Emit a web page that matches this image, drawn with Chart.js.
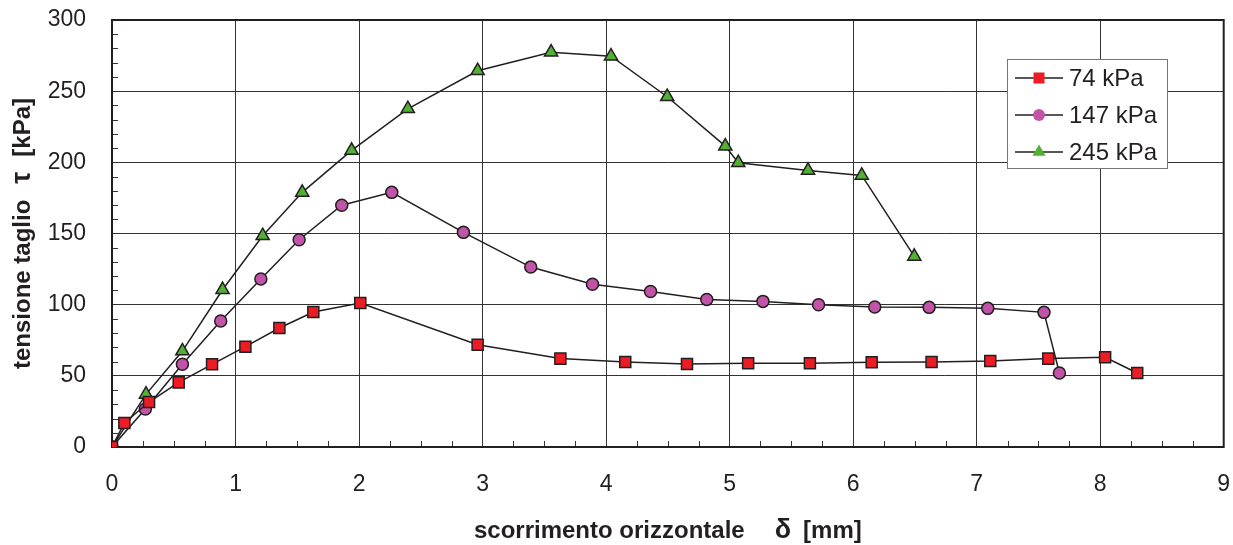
<!DOCTYPE html>
<html>
<head>
<meta charset="utf-8">
<script src="https://cdn.jsdelivr.net/npm/chart.js@4/dist/chart.umd.min.js"></script>
<style>
  html, body { margin: 0; padding: 0; background: #fff; }
  #wrap { width: 1233px; height: 545px; }
</style>
</head>
<body>
<div id="wrap"><canvas id="taglioChart" width="1233" height="545"></canvas></div>
<script>
// dati: scorrimento [mm] / tensione [kPa]
const x74 = [0, 0.10, 0.30, 0.54, 0.81, 1.08, 1.355, 1.63, 2.01, 2.96, 3.63, 4.155, 4.655, 5.15, 5.65, 6.15, 6.635, 7.11, 7.58, 8.04, 8.30];
const y74 = [0, 16.9, 31.6, 45.4, 58.1, 70.5, 83.6, 94.8, 101.1, 71.9, 62.1, 59.7, 58.3, 58.8, 58.8, 59.5, 59.7, 60.4, 62.1, 63.0, 52.0];

const x147 = [0, 0.27, 0.57, 0.88, 1.205, 1.515, 1.86, 2.265, 2.845, 3.39, 3.89, 4.36, 4.815, 5.27, 5.72, 6.175, 6.615, 7.09, 7.545, 7.67];
const y147 = [0, 26.7, 58.1, 88.5, 118.0, 145.6, 169.9, 178.9, 150.8, 126.4, 114.3, 109.3, 103.7, 102.3, 100.0, 98.3, 98.1, 97.4, 94.6, 52.0];

const x245 = [0, 0.275, 0.57, 0.895, 1.22, 1.54, 1.94, 2.395, 2.96, 3.555, 4.04, 4.495, 4.965, 5.07, 5.635, 6.07, 6.495];
const y245 = [0, 37.0, 67.4, 110.5, 148.4, 178.9, 208.4, 237.6, 264.3, 277.4, 274.6, 246.1, 211.4, 199.7, 194.3, 190.8, 133.9];

const seriesLabels = ['74 kPa', '147 kPa', '245 kPa'];
const xTicks = { min: 0, max: 9, step: 1 };
const yTicks = { min: 0, max: 300, step: 50 };

const ink = '#231f20';
const FONT = "'Liberation Sans', Arial, Helvetica, sans-serif";

function punti(xs, ys) {
    return xs.map((x, i) => ({ x: x, y: ys[i] }));
}

// tacche secondarie + cornice dell'area del grafico
const tacche = {
    id: 'tacche',
    beforeDatasetsDraw(chart) {
        const { ctx, chartArea: a, scales: { x, y } } = chart;
        ctx.save();
        ctx.strokeStyle = '#333';
        ctx.lineWidth = 1;
        ctx.beginPath();
        for (let v = 10; v < 300; v += 10) {
            if (v % 50 === 0) continue;
            const py = Math.round(y.getPixelForValue(v)) + 0.5;
            ctx.moveTo(a.left, py);
            ctx.lineTo(a.left + 6, py);
        }
        for (let v = 0.25; v < 9; v += 0.25) {
            if (Math.abs(v - Math.round(v)) < 1e-6) continue;
            const px = Math.round(x.getPixelForValue(v)) + 0.5;
            ctx.moveTo(px, a.bottom);
            ctx.lineTo(px, a.bottom - 6);
        }
        ctx.stroke();
        ctx.lineWidth = 2;
        ctx.strokeStyle = ink;
        ctx.strokeRect(a.left, a.top, a.right - a.left, a.bottom - a.top);
        ctx.restore();
    }
};

// titoli degli assi con il simbolo greco piu' grande
function misuraRuns(ctx, runs) {
    let w = 0;
    runs.forEach(r => { ctx.font = r.font; r.w = ctx.measureText(r.t).width; w += r.w + (r.gap || 0); });
    return w;
}

const legendaETitoli = {
    id: 'legendaETitoli',
    afterDraw(chart) {
        const { ctx, chartArea: a } = chart;
        ctx.save();
        ctx.fillStyle = ink;
        ctx.textBaseline = 'alphabetic';
        ctx.textAlign = 'left';

        // titolo asse x
        const runsX = [
            { t: 'scorrimento orizzontale', font: 'bold 24px ' + FONT },
            { t: 'δ', font: 'bold 27px ' + FONT, gap: 30 },
            { t: '[mm]', font: 'bold 24px ' + FONT, gap: 12 }
        ];
        let tot = misuraRuns(ctx, runsX);
        let cx = (a.left + a.right) / 2 - tot / 2;
        runsX.forEach(r => {
            cx += r.gap || 0;
            ctx.font = r.font;
            ctx.fillText(r.t, cx, 538);
            cx += r.w;
        });

        // titolo asse y
        const runsY = [
            { t: 'tensione taglio', font: 'bold 24px ' + FONT },
            { t: 'τ', font: 'bold 27px ' + FONT, gap: 16 },
            { t: '[kPa]', font: 'bold 24px ' + FONT, gap: 15 }
        ];
        tot = misuraRuns(ctx, runsY);
        ctx.translate(30, (a.top + a.bottom) / 2);
        ctx.rotate(-Math.PI / 2);
        let cy = -tot / 2;
        runsY.forEach(r => {
            cy += r.gap || 0;
            ctx.font = r.font;
            ctx.fillText(r.t, cy, 0);
            cy += r.w;
        });
        ctx.restore();

        // legenda dentro l'area del grafico
        ctx.save();
        const box = { x: 1007.5, y: 59.5, w: 160, h: 109 };
        ctx.fillStyle = '#fff';
        ctx.fillRect(box.x, box.y, box.w, box.h);
        ctx.strokeStyle = '#777';
        ctx.lineWidth = 1;
        ctx.strokeRect(box.x, box.y, box.w, box.h);
        const righe = [78, 115, 152];
        chart.data.datasets.forEach((ds, i) => {
            const ry = righe[i];
            ctx.strokeStyle = ink;
            ctx.lineWidth = 1.5;
            ctx.beginPath();
            ctx.moveTo(1015, ry);
            ctx.lineTo(1063, ry);
            ctx.stroke();
            ctx.fillStyle = ds.pointBackgroundColor;
            ctx.strokeStyle = ds.pointBorderColor;
            ctx.lineWidth = ds.pointBorderWidth;
            Chart.helpers.drawPoint(ctx, { pointStyle: ds.pointStyle, radius: ds.pointRadius, rotation: 0 }, 1039, ry);
            ctx.fillStyle = ink;
            ctx.font = '24px ' + FONT;
            ctx.textBaseline = 'middle';
            ctx.fillText(ds.label, 1069, ry + 1);
        });
        ctx.restore();
    }
};

Chart.defaults.font.family = FONT;
Chart.defaults.color = ink;

const ctxTaglio = document.getElementById('taglioChart').getContext('2d');
const taglioChart = new Chart(ctxTaglio, {
    type: 'line',
    data: {
        datasets: [
            {
                label: seriesLabels[0],
                data: punti(x74, y74),
                borderColor: ink,
                borderWidth: 1.5,
                pointStyle: 'rect',
                pointRadius: 7.8,
                pointBackgroundColor: '#ed1c24',
                pointBorderColor: ink,
                pointBorderWidth: 1.5
            },
            {
                label: seriesLabels[1],
                data: punti(x147, y147),
                borderColor: ink,
                borderWidth: 1.5,
                pointStyle: 'circle',
                pointRadius: 6,
                pointBackgroundColor: '#c153a8',
                pointBorderColor: ink,
                pointBorderWidth: 1.5
            },
            {
                label: seriesLabels[2],
                data: punti(x245, y245),
                borderColor: ink,
                borderWidth: 1.5,
                pointStyle: 'triangle',
                pointRadius: 7.6,
                pointBackgroundColor: '#52b135',
                pointBorderColor: ink,
                pointBorderWidth: 1.5
            }
        ]
    },
    options: {
        responsive: false,
        animation: false,
        devicePixelRatio: 1,
        layout: { padding: { top: 20, right: 9, left: 0, bottom: 0 } },
        plugins: {
            legend: { display: false },
            tooltip: { enabled: false }
        },
        scales: {
            x: {
                type: 'linear',
                min: xTicks.min,
                max: xTicks.max,
                ticks: { stepSize: xTicks.step, padding: 24, font: { size: 23 }, color: ink, maxRotation: 0 },
                grid: { color: '#333', lineWidth: 1, drawTicks: false },
                border: { display: false },
                afterFit(s) { s.height = 98; s.paddingLeft = 0; s.paddingRight = 0; }
            },
            y: {
                min: yTicks.min,
                max: yTicks.max,
                ticks: { stepSize: yTicks.step, padding: 26, font: { size: 23 }, color: ink },
                grid: { color: '#333', lineWidth: 1, drawTicks: false },
                border: { display: false },
                afterFit(s) { s.width = 112; s.paddingTop = 0; s.paddingBottom = 0; }
            }
        }
    },
    plugins: [tacche, legendaETitoli]
});
</script>
</body>
</html>
